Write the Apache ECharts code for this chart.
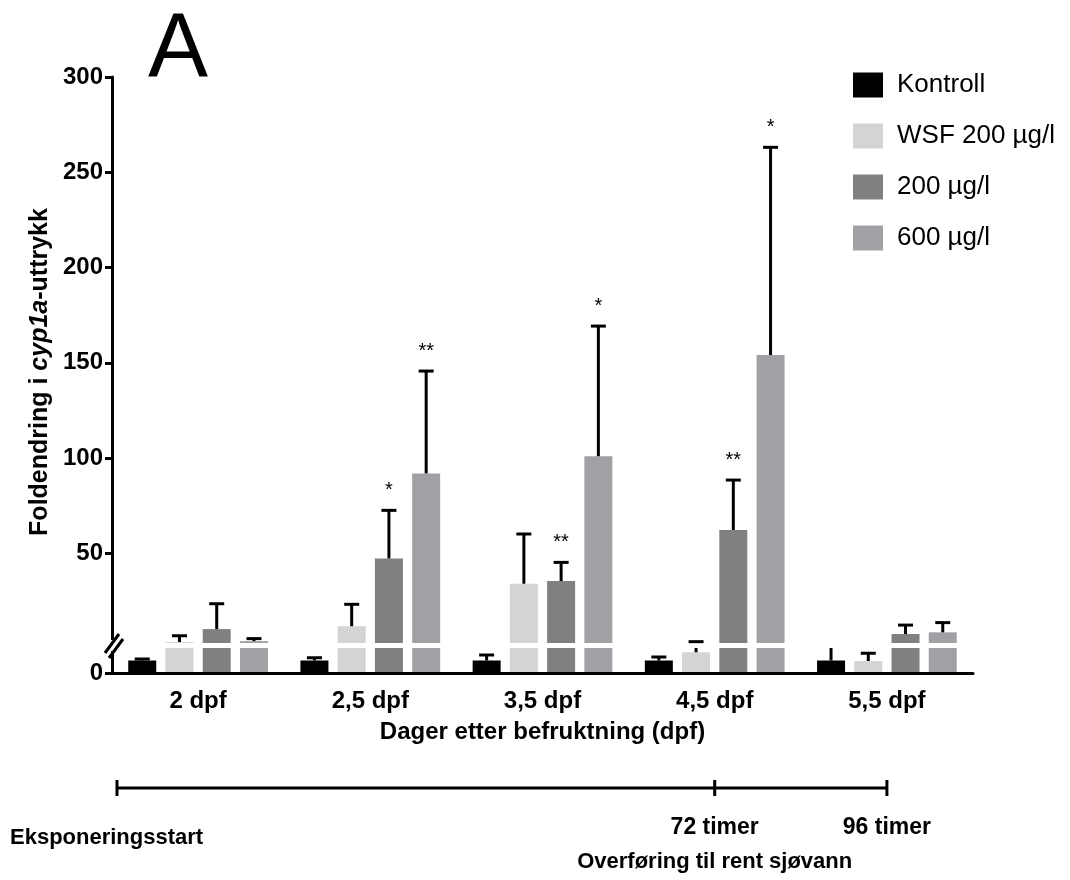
<!DOCTYPE html>
<html>
<head>
<meta charset="utf-8">
<title>cyp1a-uttrykk</title>
<script src="https://cdn.jsdelivr.net/npm/echarts@6/dist/echarts.min.js"></script>
<style>
  html, body { margin: 0; padding: 0; background: #fff; }
  #chart { width: 1070px; height: 880px; }
</style>
</head>
<body>
<div id="chart"></div>
<script>
const days = ['2 dpf', '2,5 dpf', '3,5 dpf', '4,5 dpf', '5,5 dpf']
const groups = ['Kontroll', 'WSF 200 µg/l', '200 µg/l', '600 µg/l']
const colors = ['#000000', '#d4d4d4', '#808080', '#a1a0a5']

// middelverdier (foldendring)
const kontroll = [1.0, 1.0, 1.0, 1.0, 1.0]
const wsf200 = [3.5, 11.8, 34.1, 1.66, 0.96]
const c200 = [10.3, 47.4, 35.5, 62.3, 7.7]
const c600 = [4.0, 92.0, 101, 154.1, 8.6]

// øvre ende av feilstolpe
const kontrollTop = [1.12, 1.22, 1.44, 1.28, 2.5]
const wsf200Top = [6.8, 23.3, 60.2, 3.7, 1.58]
const c200Top = [23.6, 72.6, 45.3, 88.5, 12.4]
const c600Top = [5.3, 145.7, 169.3, 263.1, 13.7]

// signifikans
const starsKontroll = ['', '', '', '', '']
const starsWsf = ['', '', '', '', '']
const stars200 = ['', '*', '**', '**', '']
const stars600 = ['', '**', '*', '*', '']

// brutt y-akse: nedre og øvre del
const lowRange = [0, 2]
const highRange = [3, 300]
const highTicks = [50, 100, 150, 200, 250, 300]

const means = [kontroll, wsf200, c200, c600]
const tops = [kontrollTop, wsf200Top, c200Top, c600Top]
const stars = [starsKontroll, starsWsf, stars200, stars600]

const FONT = '"Liberation Sans", Arial, Helvetica, sans-serif'
const BAR_W = 28
const BAR_GAP = 0.33
const STEP = BAR_W * (1 + BAR_GAP)
const CAP = 15

const chart = echarts.init(document.getElementById('chart'), null, { renderer: 'canvas' })

// feilstolper for ett segment av aksen
function errorRenderer(range, withStars) {
  return function (params, api) {
    const cat = api.value(0)
    const k = api.value(1)
    const mean = api.value(2)
    const top = api.value(3)
    const from = Math.max(mean, range[0])
    const to = Math.min(top, range[1])
    if (to <= from) return null
    const off = (k - 1.5) * STEP
    const p1 = api.coord([cat, from])
    const p2 = api.coord([cat, to])
    const x = p1[0] + off
    const children = [{
      type: 'line',
      shape: { x1: x, y1: p1[1], x2: x, y2: p2[1] },
      style: { stroke: '#000', lineWidth: 3 }
    }]
    if (top <= range[1]) {
      children.push({
        type: 'line',
        shape: { x1: x - CAP / 2, y1: p2[1], x2: x + CAP / 2, y2: p2[1] },
        style: { stroke: '#000', lineWidth: 3 }
      })
      const s = stars[k][cat]
      if (withStars && s) {
        children.push({
          type: 'text',
          style: {
            x: x, y: p2[1] - 10, text: s, fill: '#000',
            font: '20px ' + FONT, align: 'center', verticalAlign: 'bottom'
          }
        })
      }
    }
    return { type: 'group', children: children }
  }
}

const errData = []
means.forEach((arr, k) => {
  arr.forEach((m, i) => errData.push([i, k, m, tops[k][i]]))
})

const upperBars = groups.map((g, k) => ({
  name: g,
  type: 'bar',
  xAxisIndex: 0,
  yAxisIndex: 0,
  barWidth: BAR_W,
  barGap: (BAR_GAP * 100) + '%',
  itemStyle: { color: colors[k] },
  data: means[k].map(v => (v > highRange[0] ? v : '-')),
  clip: true
}))

const lowerBars = groups.map((g, k) => ({
  name: g,
  type: 'bar',
  xAxisIndex: 1,
  yAxisIndex: 1,
  barWidth: BAR_W,
  barGap: (BAR_GAP * 100) + '%',
  itemStyle: { color: colors[k] },
  data: means[k].map(v => Math.min(v, lowRange[1])),
  clip: true
}))

const axisLabelStyle = { color: '#000', fontFamily: FONT, fontWeight: 'bold', fontSize: 24 }

const option = {
  animation: false,
  backgroundColor: '#fff',
  textStyle: { fontFamily: FONT },
  legend: {
    orient: 'vertical',
    left: 853,
    top: 72,
    itemWidth: 30,
    itemHeight: 25,
    itemGap: 25,
    icon: 'rect',
    padding: 0,
    data: groups,
    textStyle: { color: '#000', fontSize: 26, fontFamily: FONT, padding: [0, 0, 0, 9] }
  },
  grid: [
    { left: 112, width: 861, top: 77, height: 566 },
    { left: 112, width: 861, top: 648, height: 25 }
  ],
  xAxis: [
    { gridIndex: 0, type: 'category', data: days, show: false },
    {
      gridIndex: 1,
      type: 'category',
      data: days,
      z: 10,
      axisLine: { lineStyle: { color: '#000', width: 3 } },
      axisTick: { alignWithLabel: true, length: 8, lineStyle: { color: '#000', width: 3 } },
      axisLabel: Object.assign({ margin: 16, interval: 0 }, axisLabelStyle),
      name: 'Dager etter befruktning (dpf)',
      nameLocation: 'middle',
      nameGap: 47,
      nameTextStyle: { color: '#000', fontFamily: FONT, fontWeight: 'bold', fontSize: 24 }
    }
  ],
  yAxis: [
    {
      gridIndex: 0,
      type: 'value',
      min: highRange[0],
      max: highRange[1],
      splitLine: { show: false },
      axisLine: { show: true, lineStyle: { color: '#000', width: 3 } },
      axisTick: { show: true, length: 7, customValues: highTicks, lineStyle: { color: '#000', width: 3 } },
      axisLabel: Object.assign({ margin: 9, customValues: highTicks }, axisLabelStyle)
    },
    {
      gridIndex: 1,
      type: 'value',
      min: lowRange[0],
      max: lowRange[1],
      splitLine: { show: false },
      axisLine: { show: true, lineStyle: { color: '#000', width: 3 } },
      axisTick: { show: true, length: 7, customValues: [0], lineStyle: { color: '#000', width: 3 } },
      axisLabel: Object.assign({ margin: 9, customValues: [0] }, axisLabelStyle)
    }
  ],
  series: upperBars.concat(lowerBars).concat([
    {
      type: 'custom',
      xAxisIndex: 0,
      yAxisIndex: 0,
      z: 5,
      clip: false,
      renderItem: errorRenderer(highRange, true),
      data: errData
    },
    {
      type: 'custom',
      xAxisIndex: 1,
      yAxisIndex: 1,
      z: 5,
      clip: false,
      renderItem: errorRenderer(lowRange, false),
      data: errData
    }
  ])
}

chart.setOption(option)

// tidslinje under figuren, festet til kategoriene
const x72 = chart.convertToPixel({ xAxisIndex: 1 }, 3)
const x96 = chart.convertToPixel({ xAxisIndex: 1 }, 4)
const lineY = 788
const stroke = { stroke: '#000', lineWidth: 3 }
const boldText = (text, x, y, align, size) => ({
  type: 'text',
  style: { text: text, x: x, y: y, align: align, verticalAlign: 'middle', fill: '#000', font: 'bold ' + size + 'px ' + FONT }
})

chart.setOption({
  graphic: [
    {
      type: 'text',
      style: { text: 'A', x: 148, y: 51, align: 'left', verticalAlign: 'middle', fill: '#000', font: '90px ' + FONT }
    },
    // y-aksetittel med kursiv gennavn
    {
      type: 'text',
      x: 40,
      y: 372,
      rotation: Math.PI / 2,
      style: {
        text: '{b|Foldendring i }{i|cyp1a}{b|-uttrykk}',
        align: 'center',
        verticalAlign: 'middle',
        rich: {
          b: { fill: '#000', fontFamily: FONT, fontWeight: 'bold', fontSize: 25 },
          i: { fill: '#000', fontFamily: FONT, fontWeight: 'bold', fontStyle: 'italic', fontSize: 25 }
        }
      }
    },
    // bruddmarkering på y-aksen
    { type: 'rect', shape: { x: 106, y: 640, width: 12, height: 11 }, style: { fill: '#fff' }, z: 20 },
    { type: 'line', shape: { x1: 105, y1: 653, x2: 119, y2: 634 }, style: stroke, z: 21 },
    { type: 'line', shape: { x1: 109, y1: 658, x2: 123, y2: 639 }, style: stroke, z: 21 },
    // tidslinje
    { type: 'line', shape: { x1: 117, y1: lineY, x2: x96, y2: lineY }, style: stroke },
    { type: 'line', shape: { x1: 117, y1: lineY - 8, x2: 117, y2: lineY + 8 }, style: stroke },
    { type: 'line', shape: { x1: x72, y1: lineY - 8, x2: x72, y2: lineY + 8 }, style: stroke },
    { type: 'line', shape: { x1: x96, y1: lineY - 8, x2: x96, y2: lineY + 8 }, style: stroke },
    boldText('Eksponeringsstart', 10, 838, 'left', 22),
    boldText('72 timer', x72, 828, 'center', 23),
    boldText('96 timer', x96, 828, 'center', 23),
    boldText('Overføring til rent sjøvann', x72, 862, 'center', 22)
  ]
})
</script>
</body>
</html>
